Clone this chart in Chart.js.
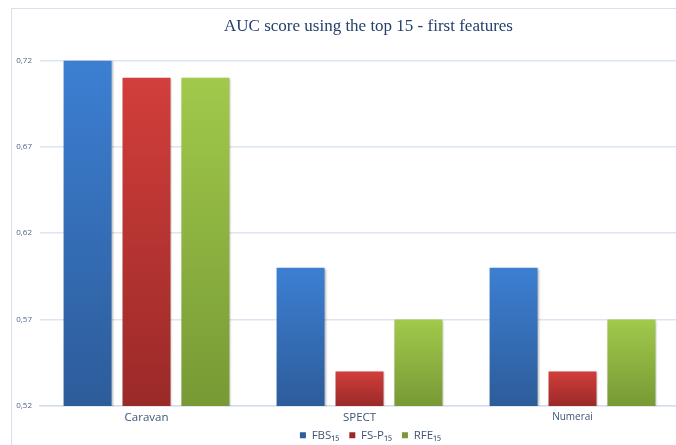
<!DOCTYPE html>
<html>
<head>
<meta charset="utf-8">
<script src="https://cdn.jsdelivr.net/npm/chart.js@4.4.1/dist/chart.umd.min.js"></script>
<style>
  html, body { margin: 0; padding: 0; background: #fff; overflow: hidden; }
  #view { position: absolute; left: 0; top: 0; width: 676px; height: 445px; overflow: hidden; }
  .rule { position: absolute; background: #d5e2f0; }
  #ruleTop { left: 11px; top: 8px; width: 665px; height: 1px; }
  #ruleLeft { left: 11px; top: 8px; width: 1px; height: 437px; }
  #wrap { position: absolute; left: 0; top: 0; width: 682px; height: 458px; }
</style>
</head>
<body>
<div id="view">
  <div class="rule" id="ruleTop"></div>
  <div class="rule" id="ruleLeft"></div>
  <div id="wrap"><canvas id="auc"></canvas></div>
</div>
<script>
const datasetNames = ['Caravan', 'SPECT', 'Numerai'];
const seriesLabels = ['FBS\u2081\u2085', 'FS-P\u2081\u2085', 'RFE\u2081\u2085'];
const fbs15 = [0.72, 0.60, 0.60];
const fsp15 = [0.71, 0.54, 0.54];
const rfe15 = [0.71, 0.57, 0.57];
const yTicks = [0.52, 0.57, 0.62, 0.67, 0.72];

// top / bottom colours of each bar's vertical gradient
const barColors = [
  ['#3c7fd2', '#2d5c9a'],
  ['#d23e3b', '#9a2a28'],
  ['#a1c94b', '#779a35']
];

function barGradient(idx) {
  return function(context) {
    const chart = context.chart;
    const area = chart.chartArea;
    if (!area) return barColors[idx][0];
    const y = chart.scales.y;
    const top = y.getPixelForValue(context.raw);
    const bottom = y.getPixelForValue(yTicks[0]);
    if (!isFinite(top) || bottom - top < 1) return barColors[idx][1];
    const g = chart.ctx.createLinearGradient(0, top, 0, bottom);
    g.addColorStop(0, barColors[idx][0]);
    g.addColorStop(1, barColors[idx][1]);
    return g;
  };
}

// soft shadow behind the bars
const barShadow = {
  id: 'barShadow',
  beforeDatasetsDraw(chart) {
    const ctx = chart.ctx;
    ctx.save();
    ctx.shadowColor = 'rgba(0,0,0,0.28)';
    ctx.shadowBlur = 2;
    ctx.shadowOffsetX = 1;
    ctx.shadowOffsetY = 1;
  },
  afterDatasetsDraw(chart) {
    chart.ctx.restore();
  }
};

// nudge title and legend: both sit a bit right of centre,
// and the legend hugs the category labels
function moveBox(box, dx, dy) {
  if (!box) return;
  box.left += dx; box.right += dx;
  box.top += dy; box.bottom += dy;
}
const boxNudge = {
  id: 'boxNudge',
  afterLayout(chart) {
    moveBox(chart.titleBlock, 29, 0);
    moveBox(chart.legend, 31, -7);
  }
};

const values = [fbs15, fsp15, rfe15];

new Chart(document.getElementById('auc'), {
  type: 'bar',
  data: {
    labels: datasetNames,
    datasets: values.map((data, i) => ({
      label: seriesLabels[i],
      data: data,
      backgroundColor: barGradient(i),
      borderWidth: 0,
      categoryPercentage: 0.83,
      barPercentage: 0.814
    }))
  },
  options: {
    responsive: true,
    maintainAspectRatio: false,
    animation: false,
    layout: { padding: { left: 0, right: 3, top: 0, bottom: 0 } },
    scales: {
      y: {
        min: yTicks[0],
        max: yTicks[yTicks.length - 1],
        afterBuildTicks: scale => { scale.ticks = yTicks.map(v => ({ value: v })); },
        afterFit: scale => { scale.width = 40; },
        border: { display: false },
        grid: { color: '#dce5f1', lineWidth: 1.5, drawTicks: false },
        ticks: {
          padding: 8,
          color: '#4f6484',
          font: { family: 'Open Sans', size: 8 },
          callback: v => v.toFixed(2).replace('.', ',')
        }
      },
      x: {
        border: { display: true, color: '#d3dfee', width: 1.5 },
        grid: { display: false },
        afterFit: scale => { scale.height = 20.5; },
        ticks: {
          padding: -3,
          color: '#3d5577',
          font: ctx => ({ family: 'Open Sans', size: ctx.index === 2 ? 10 : 11.5 })
        }
      }
    },
    plugins: {
      title: {
        display: true,
        text: 'AUC score using the top 15 - first features',
        color: '#25406d',
        font: { family: 'Liberation Serif', size: 17, weight: 'normal' },
        padding: { top: 16, bottom: 24 }
      },
      legend: {
        position: 'bottom',
        labels: {
          boxWidth: 6,
          boxHeight: 6,
          padding: 10,
          color: '#3d5577',
          font: { family: 'Open Sans', size: 11.5 }
        }
      },
      tooltip: { enabled: false }
    }
  },
  plugins: [barShadow, boxNudge]
});
</script>
</body>
</html>
